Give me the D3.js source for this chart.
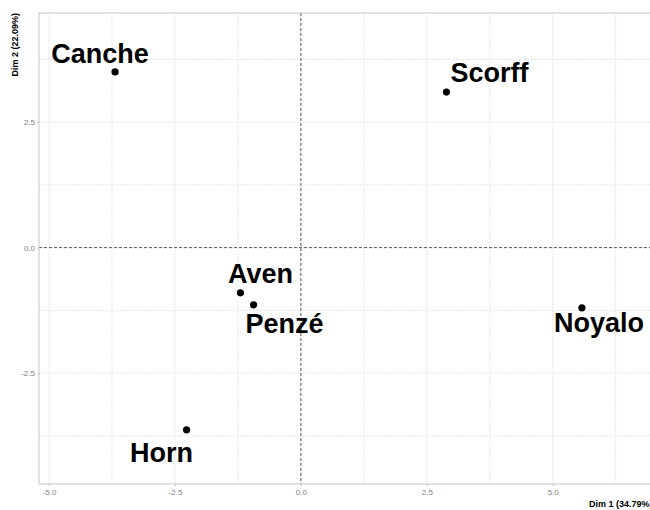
<!DOCTYPE html>
<html>
<head>
<meta charset="utf-8">
<script src="https://cdn.jsdelivr.net/npm/d3@7"></script>
<style>
  body { margin: 0; background: #fff; }
  svg { display: block; font-family: "Liberation Sans", Arial, sans-serif; }
</style>
</head>
<body>
<div id="chart"></div>
<script>
// individuals on the first two PCA dimensions
var rivers = ["Canche", "Scorff", "Aven", "Penzé", "Noyalo", "Horn"];
var dim1 = [-3.69, 2.89, -1.20, -0.94, 5.58, -2.27];
var dim2 = [3.50, 3.10, -0.90, -1.14, -1.20, -3.63];
var xTicks = [-5, -2.5, 0, 2.5, 5];
var yTicks = [-2.5, 0, 2.5];
var xTitle = "Dim 1 (34.79%)";
var yTitle = "Dim 2 (22.09%)";

// label nudges in pixels (repelled labels)
var labelNudge = [[-15, -9], [43, -10], [20, -10], [31, 28], [17, 24], [-25, 32]];

var width = 650, height = 510;
var margin = ({ top: 13, right: -12, bottom: 26, left: 39 });

var svg = d3.select("#chart").append("svg")
    .attr("width", width)
    .attr("height", height);

var x = d3.scaleLinear()
    .domain([-5.2, 7.17])
    .range([margin.left, width - margin.right]);

var y = d3.scaleLinear()
    .domain([-4.71, 4.675])
    .range([height - margin.bottom, margin.top]);

var minorX = d3.range(-5, 7.5, 1.25);
var minorY = d3.range(-3.75, 4.5, 1.25);
var fmt = d => d3.format(".1f")(d).replace("−", "-");

// grid
svg.append("g")
    .attr("stroke", "#e6e6e6")
    .attr("stroke-width", 1)
    .attr("stroke-dasharray", "2,1")
    .selectAll("line")
    .data(minorX)
    .join("line")
    .attr("x1", d => x(d)).attr("x2", d => x(d))
    .attr("y1", margin.top).attr("y2", height - margin.bottom);

svg.append("g")
    .attr("stroke", "#e6e6e6")
    .attr("stroke-width", 1)
    .attr("stroke-dasharray", "2,1")
    .selectAll("line")
    .data(minorY)
    .join("line")
    .attr("y1", d => y(d)).attr("y2", d => y(d))
    .attr("x1", margin.left).attr("x2", width - margin.right);

// zero lines
svg.append("line")
    .attr("x1", x(0)).attr("x2", x(0))
    .attr("y1", margin.top).attr("y2", height - margin.bottom)
    .attr("stroke", "#333").attr("stroke-dasharray", "3,2").attr("stroke-width", 0.8);
svg.append("line")
    .attr("y1", y(0)).attr("y2", y(0))
    .attr("x1", margin.left).attr("x2", width - margin.right)
    .attr("stroke", "#333").attr("stroke-dasharray", "3,2").attr("stroke-width", 0.8);

// panel border
svg.append("rect")
    .attr("x", margin.left).attr("y", margin.top)
    .attr("width", width - margin.right - margin.left)
    .attr("height", height - margin.bottom - margin.top)
    .attr("fill", "none")
    .attr("stroke", "#c4c4c4")
    .attr("stroke-width", 1);

// axes
var xAxis = svg.append("g")
    .attr("transform", `translate(0,${height - margin.bottom})`)
    .call(d3.axisBottom(x).tickValues(xTicks).tickFormat(fmt).tickSize(2).tickPadding(3));
var yAxis = svg.append("g")
    .attr("transform", `translate(${margin.left},0)`)
    .call(d3.axisLeft(y).tickValues(yTicks).tickFormat(fmt).tickSize(2).tickPadding(2));

[xAxis, yAxis].forEach(function(a) {
    a.select(".domain").remove();
    a.selectAll(".tick line").attr("stroke", "#c4c4c4");
    a.selectAll(".tick text")
        .attr("fill", "#7f7f7f")
        .style("font-size", "8px")
        .style("font-family", "Liberation Sans, Arial, sans-serif");
});

// axis titles
svg.append("text")
    .attr("x", 589).attr("y", 507)
    .style("font-size", "9px").style("font-weight", "bold")
    .text(xTitle);
svg.append("text")
    .attr("transform", "translate(18,13) rotate(-90)")
    .attr("text-anchor", "end")
    .style("font-size", "9px").style("font-weight", "bold")
    .text(yTitle);

// points
svg.append("g")
    .selectAll("circle")
    .data(rivers)
    .join("circle")
    .attr("cx", (d, i) => x(dim1[i]))
    .attr("cy", (d, i) => y(dim2[i]))
    .attr("r", 3.6)
    .attr("fill", "#000");

// labels
svg.append("g")
    .selectAll("text")
    .data(rivers)
    .join("text")
    .attr("x", (d, i) => x(dim1[i]) + labelNudge[i][0])
    .attr("y", (d, i) => y(dim2[i]) + labelNudge[i][1])
    .attr("text-anchor", "middle")
    .style("font-size", "27px")
    .style("font-weight", "bold")
    .text(d => d);
</script>
</body>
</html>
